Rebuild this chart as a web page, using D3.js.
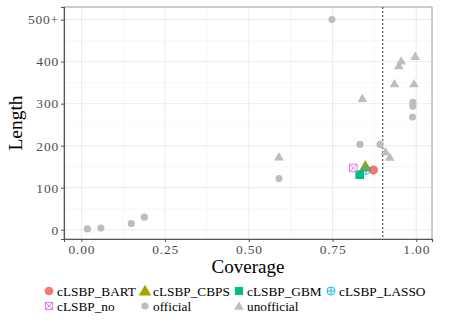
<!DOCTYPE html>
<html>
<head>
<meta charset="utf-8">
<script src="https://cdn.jsdelivr.net/npm/d3@7"></script>
<style>
body { margin: 0; background: #fff; }
svg text { font-family: "Liberation Serif", "Times New Roman", serif !important; }
</style>
</head>
<body>
<svg width="449" height="320"></svg>
<script>
// reference points
var officialCoverage = [0.018, 0.058, 0.149, 0.188, 0.590, 0.748, 0.832, 0.892, 0.990, 0.990, 0.989]
var officialLength = [2, 4, 15, 30, 122, 500, 203, 203, 303, 294, 268]
var unofficialCoverage = [0.590, 0.839, 0.908, 0.921, 0.935, 0.948, 0.955, 0.993, 0.997]
var unofficialLength = [174, 313, 186, 173, 348, 391, 402, 348, 413]

// cLSBP methods
var methods = ["cLSBP_BART", "cLSBP_CBPS", "cLSBP_GBM", "cLSBP_LASSO", "cLSBP_no"]
var methodCoverage = [0.872, 0.848, 0.831, 0.850, 0.812]
var methodLength = [142, 150, 131, 142, 147]
var methodColors = ["#F8766D", "#A3A500", "#00BF7D", "#00B0F6", "#E76BF3"]

var xTicks = [0, 0.25, 0.5, 0.75, 1]
var yTicks = [0, 100, 200, 300, 400, 500]
var yTickLabels = ["0", "100", "200", "300", "400", "500+"]
var target = 0.9

var serif = "'Liberation Serif', 'Times New Roman', serif"
var margin = {top: 7, right: 17, bottom: 81, left: 64}
var width = 449 - margin.left - margin.right
var height = 320 - margin.top - margin.bottom

var svg = d3.select("svg")
var g = svg.append("g").attr("transform", "translate(" + margin.left + "," + margin.top + ")")

var x = d3.scaleLinear().domain([-0.052, 1.047]).range([0, width])
var y = d3.scaleLinear().domain([-22, 530]).range([height, 0])

// grid
var minorX = [0.125, 0.375, 0.625, 0.875]
var minorY = [50, 150, 250, 350, 450]
g.selectAll(".minx").data(minorX).enter().append("line")
    .attr("x1", d => x(d)).attr("x2", d => x(d)).attr("y1", 0).attr("y2", height)
    .attr("stroke", "#f4f4f4").attr("stroke-width", 0.6)
g.selectAll(".miny").data(minorY).enter().append("line")
    .attr("y1", d => y(d)).attr("y2", d => y(d)).attr("x1", 0).attr("x2", width)
    .attr("stroke", "#f4f4f4").attr("stroke-width", 0.6)
g.selectAll(".majx").data(xTicks).enter().append("line")
    .attr("x1", d => x(d)).attr("x2", d => x(d)).attr("y1", 0).attr("y2", height)
    .attr("stroke", "#ebebeb").attr("stroke-width", 1)
g.selectAll(".majy").data(yTicks).enter().append("line")
    .attr("y1", d => y(d)).attr("y2", d => y(d)).attr("x1", 0).attr("x2", width)
    .attr("stroke", "#ebebeb").attr("stroke-width", 1)

// panel border
g.append("rect").attr("width", width).attr("height", height)
    .attr("fill", "none").attr("stroke", "#9a9a9a").attr("stroke-width", 1)

// target line
g.append("line").attr("x1", x(target)).attr("x2", x(target)).attr("y1", 0).attr("y2", height)
    .attr("stroke", "#000").attr("stroke-width", 0.8).attr("stroke-dasharray", "2,2")

var grey = "#bdbdbd"
var circle = d3.symbol().type(d3.symbolCircle).size(40)
var tri = d3.symbol().type(d3.symbolTriangle).size(40)

g.selectAll(".official").data(officialCoverage).enter().append("path")
    .attr("d", circle)
    .attr("transform", (d, i) => "translate(" + x(d) + "," + y(officialLength[i]) + ")")
    .attr("fill", grey)
g.selectAll(".unofficial").data(unofficialCoverage).enter().append("path")
    .attr("d", tri)
    .attr("transform", (d, i) => "translate(" + x(d) + "," + (y(unofficialLength[i]) + 1) + ")")
    .attr("fill", grey)

// marker drawer for method shapes
function drawShape(sel, i, s) {
    var c = methodColors[i]
    if (i == 0) {
        sel.append("circle").attr("r", 4.6 * s).attr("fill", c)
    } else if (i == 1) {
        sel.append("path").attr("d", d3.symbol().type(d3.symbolTriangle).size(75 * s * s)).attr("transform", "translate(0,1)").attr("fill", c)
    } else if (i == 2) {
        sel.append("rect").attr("x", -4.3 * s).attr("y", -4.3 * s).attr("width", 8.6 * s).attr("height", 8.6 * s).attr("fill", c)
    } else if (i == 3) {
        var r = 4.2 * s
        sel.append("circle").attr("r", r).attr("fill", "none").attr("stroke", c).attr("stroke-width", 0.9)
        sel.append("path").attr("d", "M" + (-r) + ",0H" + r + "M0," + (-r) + "V" + r)
            .attr("stroke", c).attr("stroke-width", 0.9)
    } else {
        var h = 3.8 * s
        sel.append("rect").attr("x", -h).attr("y", -h).attr("width", 2 * h).attr("height", 2 * h)
            .attr("fill", "none").attr("stroke", c).attr("stroke-width", 0.9)
        sel.append("path").attr("d", "M" + (-h) + "," + (-h) + "L" + h + "," + h + "M" + h + "," + (-h) + "L" + (-h) + "," + h)
            .attr("stroke", c).attr("stroke-width", 0.9)
    }
}

methods.forEach((m, i) => {
    var mk = g.append("g").attr("transform", "translate(" + x(methodCoverage[i]) + "," + y(methodLength[i]) + ")")
    drawShape(mk, i, 1)
})

// axes
var xAxis = g.append("g").attr("transform", "translate(0," + height + ")")
    .call(d3.axisBottom(x).tickValues(xTicks).tickFormat(d3.format(".2f")).tickSize(3).tickPadding(2))
var yAxis = g.append("g")
    .call(d3.axisLeft(y).tickValues(yTicks).tickFormat((d, i) => yTickLabels[i]).tickSize(3).tickPadding(2))
;[xAxis, yAxis].forEach(a => {
    a.attr("font-family", serif)
    a.select(".domain").attr("stroke", "#555").attr("stroke-width", 1.1)
    a.selectAll(".tick line").attr("stroke", "#555")
    a.selectAll(".tick text").attr("fill", "#4d4d4d").attr("font-size", 13.5)
        .attr("letter-spacing", 0.8)
})

// titles
svg.append("text").attr("x", margin.left + width / 2).attr("y", 273)
    .attr("font-family", serif)
    .attr("text-anchor", "middle").attr("font-size", 19).text("Coverage")
svg.append("text").attr("transform", "translate(22," + (margin.top + height / 2) + ") rotate(-90)")
    .attr("font-family", serif)
    .attr("text-anchor", "middle").attr("font-size", 19.5).text("Length")

// legend
var legX = [49, 145, 239, 331]
var legRows = [291, 306]
var items = []
methods.forEach((m, i) => items.push({label: m, idx: i}))
items.push({label: "official", idx: -1})
items.push({label: "unofficial", idx: -2})
items.forEach((it, k) => {
    var lx = legX[k % 4], ly = legRows[Math.floor(k / 4)]
    var key = svg.append("g").attr("transform", "translate(" + lx + "," + ly + ")")
    if (it.idx >= 0) drawShape(key, it.idx, 0.95)
    else if (it.idx == -1) key.append("path").attr("d", circle).attr("fill", grey)
    else key.append("path").attr("d", tri).attr("transform", "translate(0,1)").attr("fill", grey)
    svg.append("text").attr("x", lx + 8).attr("y", ly + 4.5)
        .attr("font-family", serif)
        .attr("font-size", 13.3).attr("fill", "#000").text(it.label)
})
</script>
</body>
</html>
